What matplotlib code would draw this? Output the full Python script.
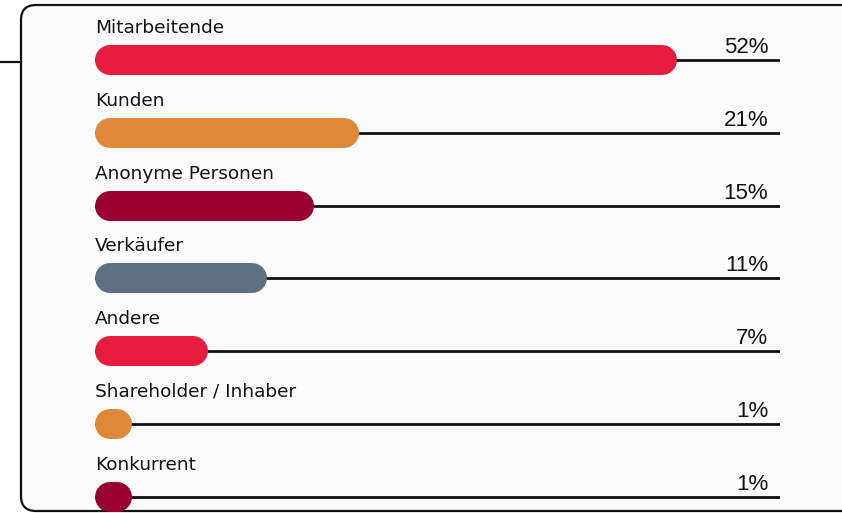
import matplotlib
matplotlib.use("Agg")
import matplotlib.pyplot as plt
from matplotlib import font_manager
from matplotlib.patches import FancyBboxPatch

# data
categories = ["Mitarbeitende", "Kunden", "Anonyme Personen", "Verkäufer",
              "Andere", "Shareholder / Inhaber", "Konkurrent"]
shares = [52, 21, 15, 11, 7, 1, 1]
# drawn bar lengths as they appear in the picture (same % scale as 52% bar)
bar_len = [52, 23.6, 19.6, 15.4, 10.1, 3.3, 3.3]
colors = ["#E81C3E", "#E0883A", "#990030", "#5E7082",
          "#E81C3E", "#E0883A", "#990030"]

installed = {f.name for f in font_manager.fontManager.ttflist}
narrow = [n for n in ["Liberation Sans Narrow", "DejaVu Sans Condensed"] if n in installed]
if narrow:
    pct_family, pct_size = [narrow[0], "DejaVu Sans"], 17
else:
    pct_family, pct_size = ["Liberation Sans", "DejaVu Sans"], 16

W, H = 842, 513
fig = plt.figure(figsize=(W / 100, H / 100), dpi=100)
fig.patch.set_facecolor("white")

# background frame
bg = fig.add_axes([0, 0, 1, 1])
bg.set_xlim(0, W)
bg.set_ylim(H, 0)
bg.axis("off")
bg.add_patch(FancyBboxPatch((21, 5), 2000, 506,
                            boxstyle="round,pad=0,rounding_size=15",
                            facecolor="#FBFBFB", edgecolor="#111111", lw=1.6))
bg.plot([0, 21], [62, 62], color="#111111", lw=1.6)

# chart axes: x in percent, y = category index
left_px, right_px = 95, 780
px_per_pct = 582 / 52
top_px, step = 60, 72.8
y0 = top_px - step / 2
y1 = top_px + step * 6.5
ax = fig.add_axes([left_px / W, (H - y1) / H, (right_px - left_px) / W, (y1 - y0) / H])
ax.set_xlim(0, (right_px - left_px) / px_per_pct)
ax.set_ylim(6.5, -0.5)
ax.axis("off")

cap = 15 / px_per_pct
for i, (name, s, L, c) in enumerate(zip(categories, shares, bar_len, colors)):
    ax.axhline(i, xmin=0, xmax=1, color="#111111", lw=2.0, zorder=1)
    ax.plot([cap, L - cap], [i, i], color=c, lw=21.6,
            solid_capstyle="round", zorder=2)
    ax.annotate(name, xy=(0, i), xytext=(0, 19.5), textcoords="offset points",
                ha="left", va="baseline", fontsize=13.3, color="#111111",
                family="DejaVu Sans")
    ax.annotate(f"{s}%", xy=(1, i), xycoords=("axes fraction", "data"),
                xytext=(-8.5, 5), textcoords="offset points",
                ha="right", va="baseline", fontsize=pct_size, color="#111111",
                family=pct_family)

fig.savefig("out.png", dpi=100)
